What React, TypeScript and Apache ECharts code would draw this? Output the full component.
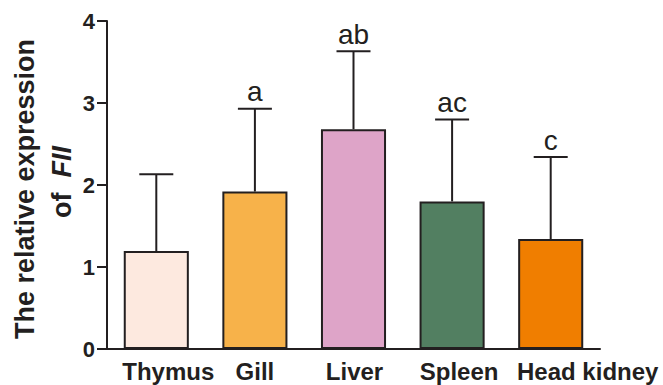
import React, { useEffect, useRef } from "react";
import * as echarts from "echarts";

const categories = ["Thymus", "Gill", "Liver", "Spleen", "Head kidney"];
const means = [1.195, 1.92, 2.68, 1.8, 1.34];
const errors = [0.935, 1.01, 0.95, 1.0, 1.0];
const letters = ["", "a", "ab", "ac", "c"];
const colors = ["#FDE9DF", "#F7B24A", "#DEA4C8", "#527F61", "#F07E00"];
const yTicks = [0, 1, 2, 3, 4];

const INK = "#231f20";
const FONT = "Liberation Sans, Arial, sans-serif";
// horizontal nudge (px, rightwards) of each category label relative to its tick
const LABEL_SHIFT = [12, 0, 1, 7, 37];

export default function App() {
  const ref = useRef<HTMLDivElement>(null);
  useEffect(() => {
    document.body.style.margin = "0";
    if (!ref.current) return;
    const chart = echarts.init(ref.current, undefined, { renderer: "svg" });
    const rich: Record<string, any> = {};
    LABEL_SHIFT.forEach((s, i) => {
      rich["p" + i] = {
        fontFamily: FONT,
        fontWeight: "bold",
        fontSize: 24,
        color: INK,
        padding: [0, 0, 0, s * 2],
      };
    });
    chart.setOption({
      animation: false,
      grid: { left: 107, right: 63, top: 21, bottom: 36 },
      xAxis: {
        type: "category",
        data: categories,
        axisLine: { lineStyle: { color: INK, width: 2 } },
        axisTick: { alignWithLabel: true, length: 9, lineStyle: { color: INK, width: 2 } },
        axisLabel: {
          interval: 0,
          color: INK,
          fontFamily: FONT,
          fontWeight: "bold",
          fontSize: 24,
          margin: 10,
          hideOverlap: false,
          formatter: (v: string, idx: number) => `{p${idx}|${v}}`,
          rich,
        },
      },
      yAxis: {
        type: "value",
        min: yTicks[0],
        max: yTicks[yTicks.length - 1],
        interval: 1,
        splitLine: { show: false },
        axisLine: { show: true, lineStyle: { color: INK, width: 2 } },
        axisTick: { show: true, length: 10, lineStyle: { color: INK, width: 2 } },
        axisLabel: {
          color: INK,
          fontFamily: FONT,
          fontWeight: "bold",
          fontSize: 22,
          margin: 12,
        },
      },
      graphic: [
        {
          type: "text",
          x: 25,
          y: 189,
          rotation: Math.PI / 2,
          style: {
            text: "The relative expression",
            fill: INK,
            font: `bold 27px ${FONT}`,
            textAlign: "center",
            textVerticalAlign: "middle",
          },
        },
        {
          type: "text",
          x: 62,
          y: 182,
          rotation: Math.PI / 2,
          style: {
            text: "{n|of  }{i|FII}",
            fill: INK,
            textAlign: "center",
            textVerticalAlign: "middle",
            rich: {
              n: { fontFamily: FONT, fontWeight: "bold", fontSize: 27, fill: INK },
              i: { fontFamily: FONT, fontWeight: "bold", fontStyle: "italic", fontSize: 27, fill: INK },
            },
          },
        },
      ],
      series: [
        {
          type: "bar",
          barWidth: "66%",
          data: means.map((v, i) => ({
            value: v,
            itemStyle: { color: colors[i], borderColor: INK, borderWidth: 2 },
          })),
          z: 2,
        },
        {
          type: "custom",
          z: 1,
          data: means.map((v, i) => [i, v, v + errors[i]]),
          renderItem: (params: any, api: any) => {
            const i = api.value(0);
            const base = api.coord([i, api.value(1)]);
            const top = api.coord([i, api.value(2)]);
            const half = 17;
            const label = letters[params.dataIndex];
            return {
              type: "group",
              children: [
                {
                  type: "line",
                  shape: { x1: base[0], y1: base[1], x2: top[0], y2: top[1] },
                  style: { stroke: INK, lineWidth: 2 },
                },
                {
                  type: "line",
                  shape: { x1: top[0] - half, y1: top[1], x2: top[0] + half, y2: top[1] },
                  style: { stroke: INK, lineWidth: 2 },
                },
                {
                  type: "text",
                  x: top[0],
                  y: top[1] - 3,
                  style: {
                    text: label,
                    fill: INK,
                    font: `28px ${FONT}`,
                    textAlign: "center",
                    textVerticalAlign: "bottom",
                  },
                },
              ],
            };
          },
        },
      ],
    });
    return () => chart.dispose();
  }, []);
  return <div ref={ref} style={{ width: 663, height: 385 }} />;
}
